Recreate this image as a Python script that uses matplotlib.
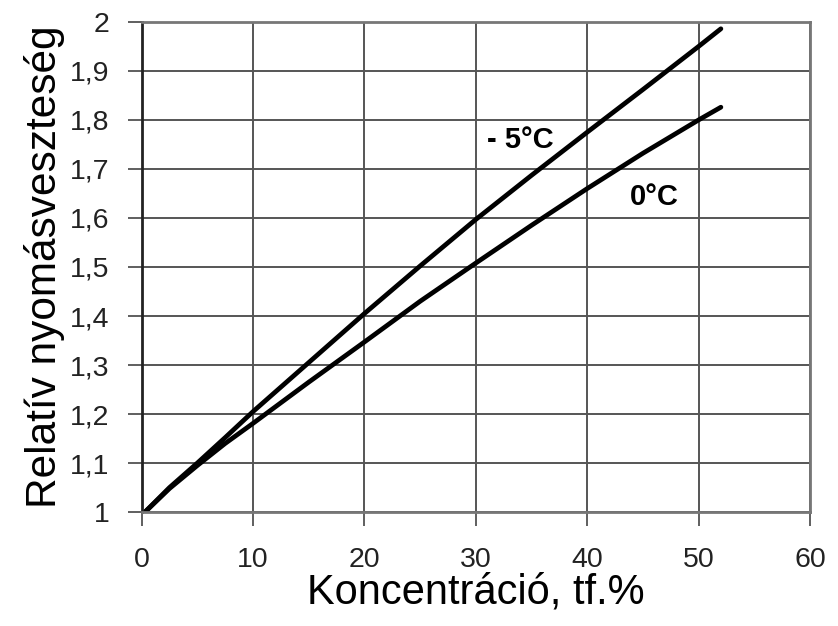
import matplotlib.pyplot as plt
from matplotlib.ticker import FuncFormatter

plt.rcParams['font.family'] = ['Liberation Sans', 'DejaVu Sans']

# concentration (tf.%) and relative pressure loss
conc = [0.3, 2.5, 5, 7.5, 10, 15, 20, 25, 30, 35, 40, 45, 50, 52]
loss_minus5 = [1.0, 1.05, 1.1, 1.152, 1.205, 1.305, 1.405, 1.502, 1.597, 1.687, 1.775, 1.862, 1.95, 1.986]
loss_0 = [1.0, 1.048, 1.095, 1.14, 1.181, 1.265, 1.347, 1.43, 1.508, 1.585, 1.66, 1.732, 1.80, 1.826]

x_ticks = [0, 10, 20, 30, 40, 50, 60]
y_ticks = [1.0, 1.1, 1.2, 1.3, 1.4, 1.5, 1.6, 1.7, 1.8, 1.9, 2.0]

fig = plt.figure(figsize=(8.38, 6.26), dpi=100)
ax = fig.add_axes([0.169, 0.182, 0.7976, 0.783])

ax.plot(conc, loss_minus5, color='black', lw=3.4, solid_capstyle='round')
ax.plot(conc, loss_0, color='black', lw=3.4, solid_capstyle='round')

ax.set_xlim(0, 60)
ax.set_ylim(1, 2)
ax.set_xticks(x_ticks)
ax.set_yticks(y_ticks)

def comma_fmt(v, pos):
    s = f'{v:.1f}'.rstrip('0').rstrip('.')
    return s.replace('.', ',')

ax.yaxis.set_major_formatter(FuncFormatter(comma_fmt))
ax.grid(True, color='#555555', lw=1.4)
ax.set_axisbelow(True)

for sp in ax.spines.values():
    sp.set_color('#777777')
    sp.set_linewidth(2)
ax.spines['left'].set_color('#222222')

ax.tick_params(direction='out', length=10, width=1.2, color='#444444',
               labelsize=20.5, labelcolor='#222222')
ax.tick_params(axis='x', pad=15)
ax.tick_params(axis='y', pad=13)

ax.text(34, 1.759, '- 5°C', fontsize=21, fontweight='bold', ha='center', va='center')
ax.text(46, 1.643, '0°C', fontsize=21, fontweight='bold', ha='center', va='center')

ax.set_xlabel('Koncentráció, tf.%', fontsize=30, labelpad=0)
ax.set_ylabel('Relatív nyomásveszteség', fontsize=30.5, labelpad=4)

fig.savefig('out.png', dpi=100)
